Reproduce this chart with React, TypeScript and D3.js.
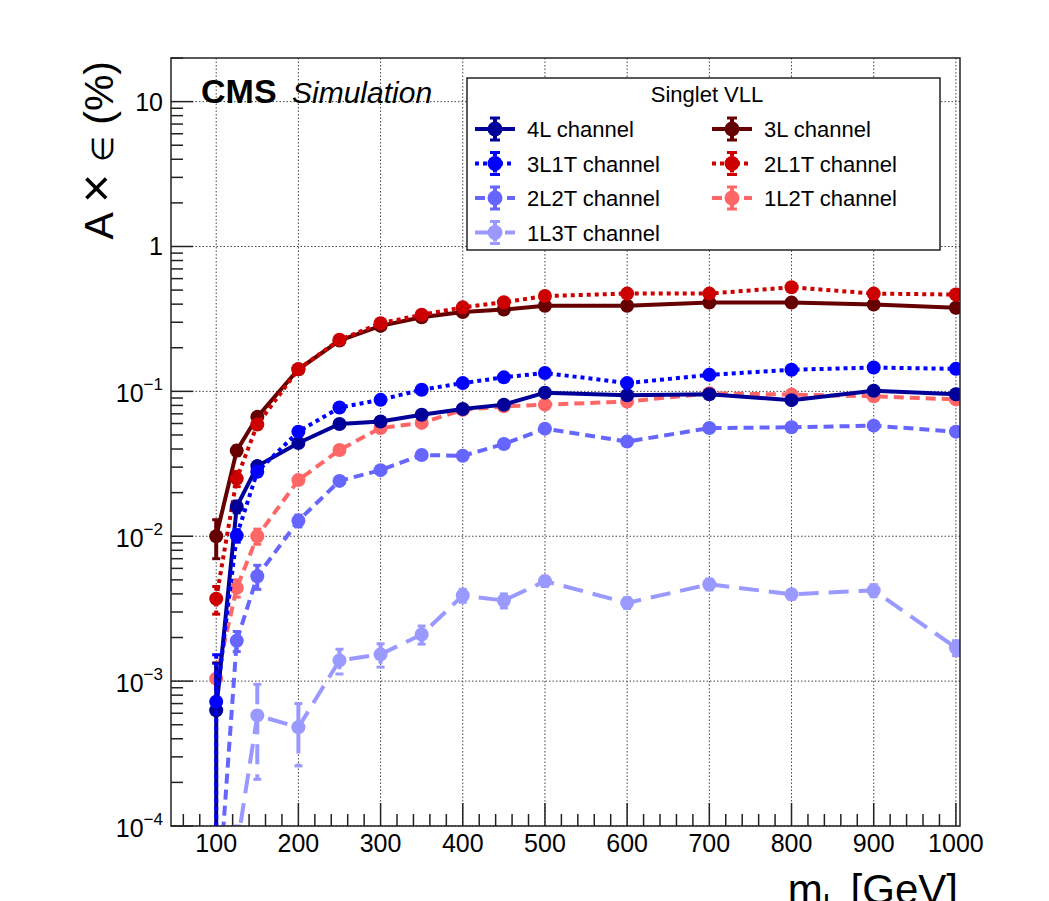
import React, { useEffect, useRef } from 'react';
import * as d3 from 'd3';

// VLL mass points (GeV)
const masses = [100, 125, 150, 200, 250, 300, 350, 400, 450, 500, 600, 700, 800, 900, 1000];

// acceptance x efficiency (%) per channel
const eff4L = [0.00063, 0.016, 0.0305, 0.044, 0.0596, 0.062, 0.069, 0.0755, 0.081, 0.098, 0.094, 0.0956, 0.087, 0.101, 0.0956];
const err4L = [0.0007, 0.0015, 0.002, 0.002, 0.002, 0.002, 0.002, 0.002, 0.002, 0.003, 0.003, 0.003, 0.003, 0.003, 0.003];

const eff3L1T = [0.00072, 0.0101, 0.0279, 0.0527, 0.0773, 0.0874, 0.1027, 0.114, 0.125, 0.134, 0.114, 0.13, 0.141, 0.146, 0.143];
const err3L1T = [0.0008, 0.001, 0.002, 0.003, 0.003, 0.003, 0.003, 0.004, 0.004, 0.004, 0.004, 0.004, 0.004, 0.004, 0.004];

const eff2L2T = [0.00002, 0.0019, 0.0053, 0.0128, 0.0241, 0.0286, 0.0364, 0.0359, 0.0433, 0.0553, 0.045, 0.0558, 0.0565, 0.058, 0.0527];
const err2L2T = [0.00001, 0.0003, 0.001, 0.0012, 0.0015, 0.0015, 0.0015, 0.0015, 0.0015, 0.002, 0.002, 0.002, 0.002, 0.002, 0.002];

const eff1L3T = [0.00001, 0.00007, 0.00058, 0.00048, 0.00139, 0.00153, 0.0021, 0.0039, 0.0036, 0.0049, 0.00347, 0.00466, 0.00397, 0.00423, 0.0017];
const err1L3T = [0.00001, 0.00003, 0.00037, 0.00022, 0.00027, 0.00028, 0.0003, 0.0004, 0.0004, 0.0004, 0.0003, 0.0004, 0.0003, 0.0004, 0.0002];

const eff3L = [0.01, 0.039, 0.0667, 0.142, 0.224, 0.283, 0.325, 0.353, 0.367, 0.39, 0.39, 0.41, 0.41, 0.397, 0.378];
const err3L = [0.003, 0.003, 0.003, 0.004, 0.005, 0.005, 0.005, 0.005, 0.005, 0.006, 0.006, 0.006, 0.006, 0.006, 0.006];

const eff2L1T = [0.0037, 0.025, 0.059, 0.142, 0.227, 0.295, 0.338, 0.38, 0.412, 0.455, 0.473, 0.473, 0.523, 0.473, 0.466];
const err2L1T = [0.0008, 0.003, 0.004, 0.005, 0.005, 0.006, 0.006, 0.006, 0.006, 0.007, 0.007, 0.007, 0.007, 0.007, 0.007];

const eff1L2T = [0.00104, 0.0044, 0.01, 0.0244, 0.0394, 0.0559, 0.0606, 0.0745, 0.0788, 0.081, 0.085, 0.097, 0.095, 0.0925, 0.088];
const err1L2T = [0.0003, 0.0006, 0.0012, 0.0015, 0.002, 0.002, 0.002, 0.002, 0.002, 0.002, 0.002, 0.002, 0.002, 0.002, 0.002];

const xTicks = [100, 200, 300, 400, 500, 600, 700, 800, 900, 1000];
const yDecades = [-4, -3, -2, -1, 0, 1];

// drawing order (reds first, then blues) and legend slot
const series = [
  { label: '3L channel', vals: eff3L, errs: err3L, color: '#660000', dash: '', col: 1, row: 0 },
  { label: '2L1T channel', vals: eff2L1T, errs: err2L1T, color: '#cc0000', dash: '4,4', col: 1, row: 1 },
  { label: '1L2T channel', vals: eff1L2T, errs: err1L2T, color: '#ff6666', dash: '10,6', col: 1, row: 2 },
  { label: '4L channel', vals: eff4L, errs: err4L, color: '#000099', dash: '', col: 0, row: 0 },
  { label: '3L1T channel', vals: eff3L1T, errs: err3L1T, color: '#0000ff', dash: '4,4', col: 0, row: 1 },
  { label: '2L2T channel', vals: eff2L2T, errs: err2L2T, color: '#6666ff', dash: '10,6', col: 0, row: 2 },
  { label: '1L3T channel', vals: eff1L3T, errs: err1L3T, color: '#9999ff', dash: '20,10', col: 0, row: 3 },
];

const FONT = 'Liberation Sans, Arial, Helvetica, sans-serif';

export default function App() {
  const ref = useRef<SVGSVGElement>(null);

  useEffect(() => {
    const svg = d3.select(ref.current);
    svg.selectAll('*').remove();

    const frame = { left: 171, top: 58, right: 960, bottom: 826 };

    const x = d3.scaleLinear().domain([45, 1005]).range([frame.left, frame.right]);
    const y = d3.scaleLog().domain([1e-4, 20]).range([frame.bottom, frame.top]);

    svg.append('rect').attr('width', 1049).attr('height', 901).attr('fill', 'white');

    svg.append('defs').append('clipPath').attr('id', 'frameclip')
      .append('rect')
      .attr('x', frame.left).attr('y', frame.top)
      .attr('width', frame.right - frame.left).attr('height', frame.bottom - frame.top);

    // grid
    const grid = svg.append('g').attr('stroke', '#444').attr('stroke-width', 1).attr('stroke-dasharray', '1.5,2');
    xTicks.forEach(t => {
      grid.append('line').attr('x1', x(t)).attr('x2', x(t)).attr('y1', frame.top).attr('y2', frame.bottom);
    });
    yDecades.forEach(d => {
      grid.append('line').attr('x1', frame.left).attr('x2', frame.right).attr('y1', y(Math.pow(10, d))).attr('y2', y(Math.pow(10, d)));
    });

    // ticks
    const ticks = svg.append('g').attr('stroke', '#222').attr('stroke-width', 1.5);
    for (let m = 60; m <= 1000; m += 20) {
      const major = m % 100 === 0;
      ticks.append('line').attr('x1', x(m)).attr('x2', x(m))
        .attr('y1', frame.bottom).attr('y2', frame.bottom - (major ? 23 : 12));
    }
    yDecades.forEach(d => {
      for (let k = 1; k <= 9; k++) {
        const v = k * Math.pow(10, d);
        if (v > 20) continue;
        ticks.append('line').attr('x1', frame.left).attr('x2', frame.left + (k === 1 ? 22 : 12))
          .attr('y1', y(v)).attr('y2', y(v));
      }
    });

    // tick labels
    xTicks.forEach(t => {
      svg.append('text')
        .attr('x', x(t)).attr('y', 852)
        .attr('text-anchor', 'middle')
        .attr('font-family', FONT).attr('font-size', 25).attr('fill', 'black')
        .text(t);
    });
    yDecades.forEach(d => {
      const yy = y(Math.pow(10, d));
      const t = svg.append('text')
        .attr('x', 163).attr('text-anchor', 'end')
        .attr('font-family', FONT).attr('font-size', 25).attr('fill', 'black');
      if (d === 0) t.attr('y', yy + 9).text('1');
      else if (d === 1) t.attr('y', yy + 9).text('10');
      else {
        t.attr('y', yy + 11);
        t.append('tspan').text('10');
        t.append('tspan').attr('font-size', 17).attr('dy', -12).text('\u2212' + (-d));
      }
    });

    // data
    const plot = svg.append('g').attr('clip-path', 'url(#frameclip)');
    const line = d3.line<number>()
      .x((d, i) => x(masses[i]))
      .y(d => y(d));

    series.forEach(s => {
      const g = plot.append('g');
      g.append('path')
        .attr('d', line(s.vals))
        .attr('fill', 'none')
        .attr('stroke', s.color)
        .attr('stroke-width', 4)
        .attr('stroke-dasharray', s.dash);

      s.vals.forEach((v, i) => {
        const cx = x(masses[i]);
        const hi = y(v + s.errs[i]);
        const lo = y(Math.max(v - s.errs[i], 1e-9));
        g.append('line').attr('x1', cx).attr('x2', cx).attr('y1', hi).attr('y2', lo)
          .attr('stroke', s.color).attr('stroke-width', 4).attr('stroke-dasharray', s.dash);
        [hi, lo].forEach(yy => {
          g.append('line').attr('x1', cx - 4).attr('x2', cx + 4).attr('y1', yy).attr('y2', yy)
            .attr('stroke', s.color).attr('stroke-width', 3);
        });
        g.append('circle').attr('cx', cx).attr('cy', y(v)).attr('r', 7).attr('fill', s.color);
      });
    });

    // frame
    svg.append('rect')
      .attr('x', frame.left).attr('y', frame.top)
      .attr('width', frame.right - frame.left).attr('height', frame.bottom - frame.top)
      .attr('fill', 'none').attr('stroke', '#222').attr('stroke-width', 1.5);

    // legend
    const legend = svg.append('g');
    legend.append('rect')
      .attr('x', 467).attr('y', 78).attr('width', 473).attr('height', 172)
      .attr('fill', 'white').attr('stroke', '#222').attr('stroke-width', 1.5);
    legend.append('text')
      .attr('x', 707).attr('y', 102).attr('text-anchor', 'middle')
      .attr('font-family', FONT).attr('font-size', 22).attr('fill', 'black')
      .text('Singlet VLL');

    series.forEach(s => {
      const mx = s.col === 0 ? 495 : 732;
      const my = 129 + s.row * 34.5;
      legend.append('line').attr('x1', mx - 20).attr('x2', mx + 20).attr('y1', my).attr('y2', my)
        .attr('stroke', s.color).attr('stroke-width', 4).attr('stroke-dasharray', s.dash);
      legend.append('line').attr('x1', mx).attr('x2', mx).attr('y1', my - 11).attr('y2', my + 11)
        .attr('stroke', s.color).attr('stroke-width', 4).attr('stroke-dasharray', s.dash);
      [my - 11, my + 11].forEach(yy => {
        legend.append('line').attr('x1', mx - 5).attr('x2', mx + 5).attr('y1', yy).attr('y2', yy)
          .attr('stroke', s.color).attr('stroke-width', 3);
      });
      legend.append('circle').attr('cx', mx).attr('cy', my).attr('r', 7.5).attr('fill', s.color);
      legend.append('text')
        .attr('x', mx + 32).attr('y', my + 8)
        .attr('font-family', FONT).attr('font-size', 22).attr('fill', 'black')
        .text(s.label);
    });

    // CMS label
    svg.append('text')
      .attr('x', 201).attr('y', 103)
      .attr('font-family', FONT).attr('font-size', 34).attr('font-weight', 'bold').attr('fill', 'black')
      .text('CMS');
    svg.append('text')
      .attr('x', 292).attr('y', 103)
      .attr('font-family', FONT).attr('font-size', 30).attr('font-style', 'italic').attr('fill', 'black')
      .text('Simulation');

    // axis titles
    const yt = svg.append('text')
      .attr('text-anchor', 'end')
      .attr('transform', 'translate(113,61) rotate(-90)')
      .attr('font-family', FONT).attr('font-size', 41).attr('fill', 'black');
    yt.append('tspan').text('A ');
    yt.append('tspan').attr('font-size', 50).text('\u00d7');
    yt.append('tspan').text(' ');
    yt.append('tspan').attr('font-family', 'DejaVu Sans').attr('font-size', 30).text('\u2208');
    yt.append('tspan').text(' (%)');

    const xt = svg.append('text')
      .attr('x', 958).attr('y', 904).attr('text-anchor', 'end')
      .attr('font-family', FONT).attr('font-size', 42).attr('fill', 'black');
    xt.append('tspan').text('m');
    xt.append('tspan').attr('font-size', 29).attr('dy', 10).text('L');
    xt.append('tspan').attr('dy', -10).text(' [GeV]');
  }, []);

  return <svg ref={ref} width={1049} height={901} style={{ position: 'absolute', left: 0, top: 0 }} />;
}
